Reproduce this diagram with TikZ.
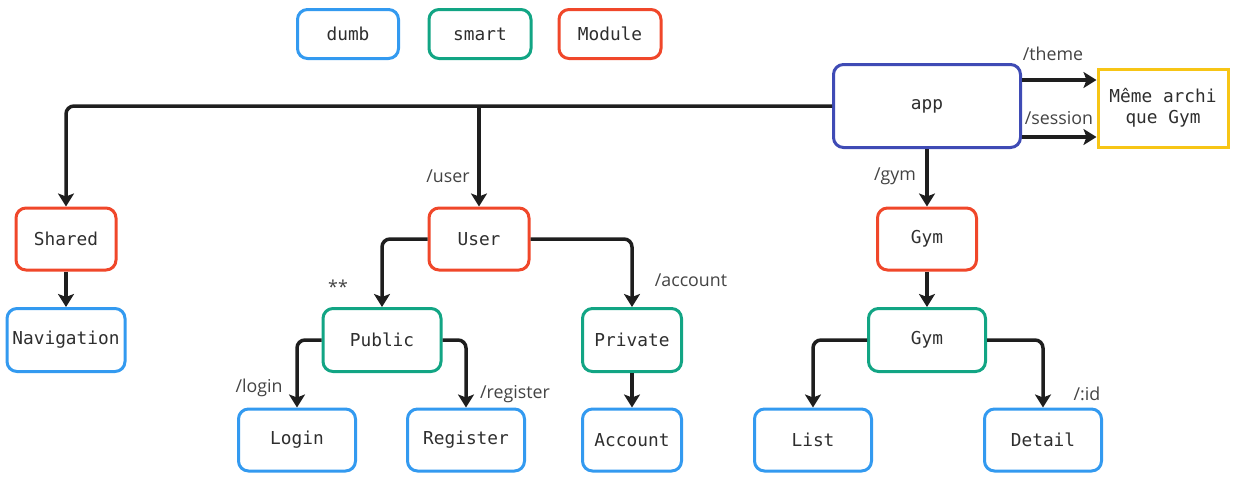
\documentclass[tikz,border=0pt]{standalone}
\usepackage{fontspec}
\setmainfont{Open Sans}
\newfontfamily\monof{DejaVu Sans Mono}
\usetikzlibrary{arrows.meta}
\definecolor{cblue}{HTML}{339AF0}
\definecolor{cgreen}{HTML}{12A584}
\definecolor{cred}{HTML}{F0472A}
\definecolor{cindigo}{HTML}{3F4BB5}
\definecolor{cyellow}{HTML}{F7C515}
\definecolor{cline}{HTML}{1E1E1E}
\definecolor{ctext}{HTML}{2E2E2E}
\begin{document}
\begin{tikzpicture}[x=1pt,y=-1pt,
  box/.style={draw,line width=3pt,rounded corners=10pt,inner sep=0pt,
    text=ctext,font=\monof\fontsize{17.8}{21}\selectfont,align=center},
  dumbbox/.style={box,draw=cblue},
  smartbox/.style={box,draw=cgreen},
  modbox/.style={box,draw=cred},
  conn/.style={draw=cline,line width=3.5pt,rounded corners=8pt,
    -{Stealth[length=13pt,width=16pt,inset=3pt]}},
  lbl/.style={inner sep=0pt,text=ctext!90,font=\fontsize{17.8}{21}\selectfont}]
\useasboundingbox (0,0) rectangle (1237,482);
% legend
\node[dumbbox,minimum width=101pt,minimum height=49pt] (lgdumb) at (348,34) {dumb};
\node[smartbox,minimum width=102pt,minimum height=49pt] (lgsmart) at (480,34) {smart};
\node[modbox,minimum width=102pt,minimum height=49pt] (lgmod) at (610,34) {Module};
% nodes
\node[box,draw=cindigo,minimum width=187pt,minimum height=83pt] (app) at (927,106) {app};
\node[box,draw=cyellow,rounded corners=0pt,minimum width=130pt,minimum height=78pt] (meme) at (1163,108) {Même archi\\que Gym};
\node[modbox,minimum width=100pt,minimum height=62pt] (shared) at (66,239) {Shared};
\node[dumbbox,minimum width=118pt,minimum height=63pt] (nav) at (66,340) {Navigation};
\node[modbox,minimum width=100pt,minimum height=62pt] (user) at (479,239) {User};
\node[smartbox,minimum width=118pt,minimum height=63pt] (public) at (382,340) {Public};
\node[smartbox,minimum width=99pt,minimum height=63pt] (private) at (632,340) {Private};
\node[dumbbox,minimum width=117pt,minimum height=62pt] (login) at (297,440) {Login};
\node[dumbbox,minimum width=117pt,minimum height=62pt] (register) at (466,440) {Register};
\node[dumbbox,minimum width=99pt,minimum height=62pt] (account) at (632,440) {Account};
\node[modbox,minimum width=99pt,minimum height=62pt] (gymmod) at (927,239) {Gym};
\node[smartbox,minimum width=117pt,minimum height=63pt] (gym) at (927,340) {Gym};
\node[dumbbox,minimum width=117pt,minimum height=62pt] (list) at (813,440) {List};
\node[dumbbox,minimum width=117pt,minimum height=62pt] (detail) at (1043,440) {Detail};
% connectors
\coordinate (juser) at (app.west -| user.north);
\draw[conn] (app.west) -| (shared.north);
\draw[conn] (juser) -- (user.north);
\coordinate (thA) at (app.east |- 0,80);
\coordinate (thB) at (meme.west |- 0,80);
\coordinate (seA) at (app.east |- 0,137);
\coordinate (seB) at (meme.west |- 0,137);
\draw[conn] (thA) -- (thB);
\draw[conn] (seA) -- (seB);
\draw[conn] (app.south) -- (gymmod.north);
\draw[conn] (shared.south) -- (nav.north);
\draw[conn] (user.west) -| (public.north);
\draw[conn] (user.east) -| (private.north);
\draw[conn] (public.west) -| (login.north);
\draw[conn] (public.east) -| (register.north);
\draw[conn] (private.south) -- (account.north);
\draw[conn] (gymmod.south) -- (gym.north);
\draw[conn] (gym.west) -| (list.north);
\draw[conn] (gym.east) -| (detail.north);
% labels
\node[lbl] (ltheme) at (1053,54) {/theme};
\node[lbl] (lsession) at (1059,118) {/session};
\node[lbl] (lgym) at (895,176) {/gym};
\node[lbl] (luser) at (448,176) {/user};
\node[lbl] (lstar) at (338,287) {**};
\node[lbl] (laccount) at (691,280) {/account};
\node[lbl] (llogin) at (259,388) {/login};
\node[lbl] (lregister) at (515,394) {/register};
\node[lbl] (lid) at (1087,394) {/:id};
\end{tikzpicture}
\end{document}
